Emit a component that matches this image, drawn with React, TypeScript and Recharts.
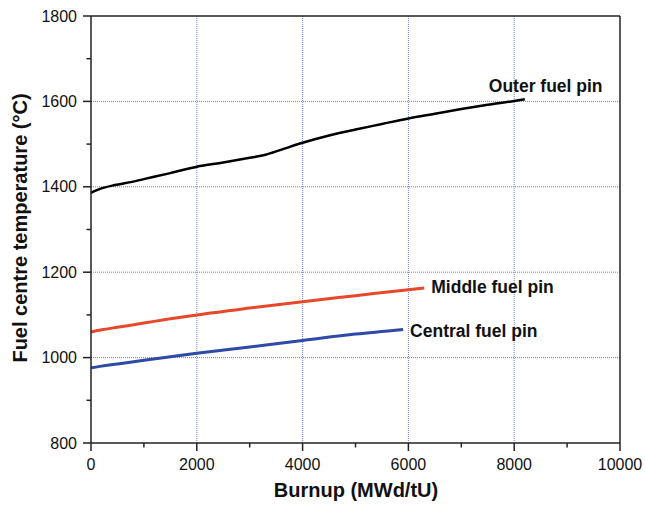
import {
  LineChart,
  Line,
  XAxis,
  YAxis,
  CartesianGrid,
  ReferenceLine,
  Label,
} from "recharts"

const outerBurnup = [0, 170, 450, 750, 1000, 1500, 2000, 2500, 3000, 3300, 3600, 4000, 4500, 5000, 5500, 6000, 6500, 7000, 7500, 8000, 8200]
const outerTemp = [1386, 1395, 1404, 1411, 1418, 1432, 1447, 1457, 1468, 1475, 1487, 1503, 1520, 1534, 1547, 1560, 1571, 1582, 1592, 1601, 1605]

const middleBurnup = [0, 200, 500, 1000, 1500, 2000, 3000, 4000, 5000, 6000, 6300]
const middleTemp = [1060, 1065, 1071, 1081, 1091, 1100, 1116, 1131, 1145, 1159, 1163]

const centralBurnup = [0, 200, 500, 1000, 1500, 2000, 3000, 4000, 5000, 5900]
const centralTemp = [976, 980, 985, 994, 1002, 1010, 1025, 1040, 1055, 1066]

const xTicks = [0, 1000, 2000, 3000, 4000, 5000, 6000, 7000, 8000, 9000, 10000]
const yTicks = [800, 900, 1000, 1100, 1200, 1300, 1400, 1500, 1600, 1700, 1800]
const xGrid = [2000, 4000, 6000, 8000]
const yGrid = [1000, 1200, 1400, 1600]

const FONT = "'Liberation Sans', Arial, sans-serif"
const AXIS = "#222"
const GRID = "#6b7fd6"

const toRows = (xs: number[], ys: number[]) => xs.map((x, i) => ({ x, y: ys[i] }))

const outer = toRows(outerBurnup, outerTemp)
const middle = toRows(middleBurnup, middleTemp)
const central = toRows(centralBurnup, centralTemp)

function XTick(props: any) {
  const { x, y, payload } = props
  const major = payload.value % 2000 === 0
  return (
    <g>
      <line x1={x} x2={x} y1={y} y2={y + (major ? 8 : 4.5)} stroke={AXIS} strokeWidth={1.5} />
      {major && (
        <text x={x} y={y + 27} textAnchor="middle" fontSize={16} fontFamily={FONT} fill="#111">
          {payload.value}
        </text>
      )}
    </g>
  )
}

function YTick(props: any) {
  const { x, y, payload } = props
  const major = payload.value % 200 === 0
  return (
    <g>
      <line x1={x - (major ? 8 : 4.5)} x2={x} y1={y} y2={y} stroke={AXIS} strokeWidth={1.5} />
      {major && (
        <text x={x - 14} y={y} dy="0.35em" textAnchor="end" fontSize={16} fontFamily={FONT} fill="#111">
          {payload.value}
        </text>
      )}
    </g>
  )
}

const endLabel = (len: number, text: string, dx: number, dy: number) => (props: any) => {
  if (props.index !== len - 1) return null
  return (
    <text x={props.x + dx} y={props.y + dy} fontSize={17.5} fontWeight="bold" fontFamily={FONT} fill="#111">
      {text}
    </text>
  )
}

export default function App() {
  return (
    <div style={{ position: "absolute", left: 0, top: 0, background: "#fff" }}>
      <LineChart width={646} height={507} margin={{ top: 16, right: 26, bottom: 0, left: 0 }}>
        <CartesianGrid
          horizontalValues={yGrid}
          verticalValues={xGrid}
          stroke={GRID}
          strokeDasharray="1 1"
          strokeWidth={1}
        />
        <XAxis
          type="number"
          dataKey="x"
          domain={[0, 10000]}
          ticks={xTicks}
          interval={0}
          height={64}
          tickSize={0}
          tickMargin={0}
          tickLine={false}
          axisLine={{ stroke: AXIS, strokeWidth: 1.5 }}
          tick={<XTick />}
        >
          <Label
            content={() => (
              <text x={356} y={497} textAnchor="middle" fontSize={20} fontWeight="bold" fontFamily={FONT} fill="#111">
                Burnup (MWd/tU)
              </text>
            )}
          />
        </XAxis>
        <YAxis
          type="number"
          domain={[800, 1800]}
          ticks={yTicks}
          interval={0}
          width={91}
          tickSize={0}
          tickMargin={0}
          tickLine={false}
          axisLine={{ stroke: AXIS, strokeWidth: 1.5 }}
          tick={<YTick />}
        >
          <Label
            content={() => (
              <text
                x={27}
                y={228}
                textAnchor="middle"
                transform="rotate(-90 27 228)"
                fontSize={20}
                fontWeight="bold"
                fontFamily={FONT}
                fill="#111"
              >
                Fuel centre temperature (°C)
              </text>
            )}
          />
        </YAxis>
        <ReferenceLine y={1800} stroke={AXIS} strokeWidth={1.5} />
        <ReferenceLine x={10000} stroke={AXIS} strokeWidth={1.5} />
        <Line
          data={outer}
          dataKey="y"
          type="monotone"
          stroke="#000"
          strokeWidth={2.5}
          dot={false}
          isAnimationActive={false}
          label={endLabel(outer.length, "Outer fuel pin", -36, -7)}
        />
        <Line
          data={middle}
          dataKey="y"
          type="monotone"
          stroke="#e8482a"
          strokeWidth={3}
          dot={false}
          isAnimationActive={false}
          label={endLabel(middle.length, "Middle fuel pin", 7, 5.5)}
        />
        <Line
          data={central}
          dataKey="y"
          type="monotone"
          stroke="#2c4aa6"
          strokeWidth={3}
          dot={false}
          isAnimationActive={false}
          label={endLabel(central.length, "Central fuel pin", 7, 7.5)}
        />
      </LineChart>
    </div>
  )
}
